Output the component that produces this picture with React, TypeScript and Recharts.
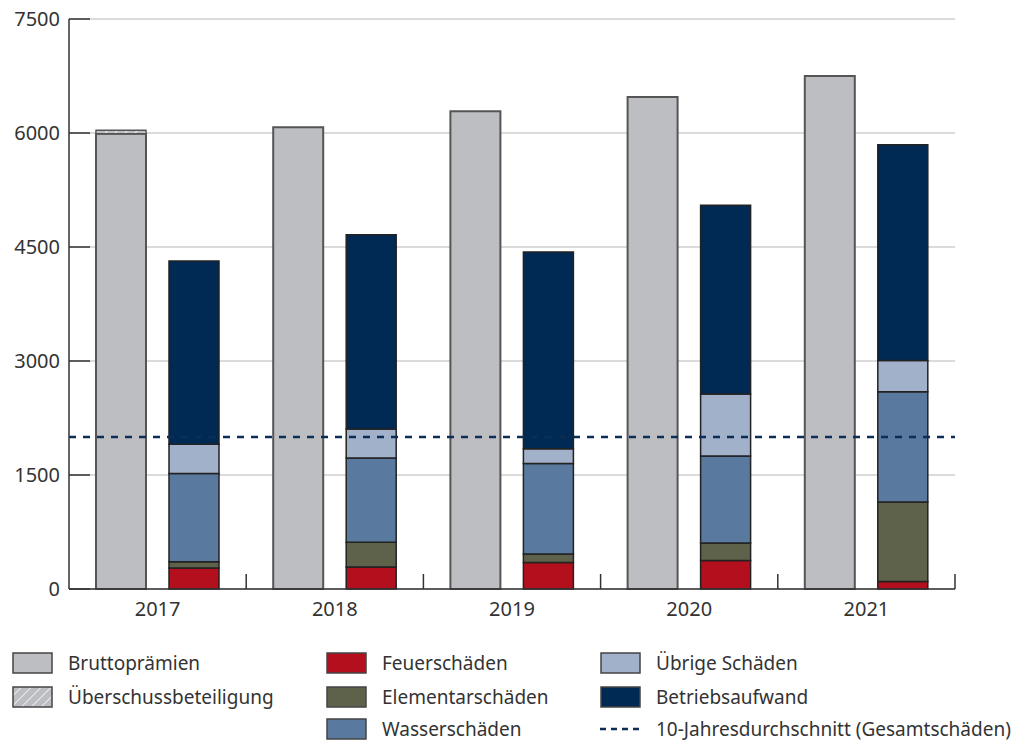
import React from 'react';
import { BarChart, Bar, XAxis, YAxis, CartesianGrid, ReferenceLine } from 'recharts';

const years = ['2017', '2018', '2019', '2020', '2021'];
const bruttopraemien = [5990, 6075, 6285, 6475, 6750];
const ueberschuss = [45, 0, 0, 0, 0];
const feuer = [275, 290, 350, 375, 100];
const elementar = [85, 325, 110, 230, 1045];
const wasser = [1160, 1110, 1190, 1145, 1450];
const uebrige = [385, 380, 195, 815, 410];
const betrieb = [2410, 2555, 2590, 2485, 2840];
const average = 2000;
const yTicks = [0, 1500, 3000, 4500, 6000, 7500];

const data = years.map((year, i) => ({
  year,
  brutto: bruttopraemien[i],
  ueberschuss: ueberschuss[i],
  feuer: feuer[i],
  elementar: elementar[i],
  wasser: wasser[i],
  uebrige: uebrige[i],
  betrieb: betrieb[i],
}));

const FONT = '"Noto Sans", sans-serif';
const TEXT = '#333';
const C = {
  grey: '#bdbec2',
  feuer: '#b30f1d',
  elementar: '#5f624a',
  wasser: '#5a799f',
  uebrige: '#a0b1c9',
  betrieb: '#002a54',
  avg: '#0d2d56',
};

const YTick = ({ x, y, payload }: any) => (
  <g>
    <line x1={x + 8} x2={x + 29} y1={y} y2={y} stroke="#333" strokeWidth={1.5} />
    <text x={x - 1} y={y + 7} textAnchor="end" fontSize={20} fill={TEXT} fontFamily={FONT}>
      {payload.value}
    </text>
  </g>
);

const XTick = ({ x, y, payload }: any) => {
  const half = payload.offset || 88.6;
  return (
    <g>
      <line x1={x + half} x2={x + half} y1={y - 8} y2={y - 23} stroke="#333" strokeWidth={1.5} />
      <text x={x} y={y + 19} textAnchor="middle" fontSize={20} fill={TEXT} fontFamily={FONT}>
        {payload.value}
      </text>
    </g>
  );
};

const Swatch = ({ color, hatch }: { color: string; hatch?: boolean }) => (
  <svg width={41} height={22} style={{ display: 'block' }}>
    <defs>
      <pattern id="lgHatch" width="7" height="7" patternUnits="userSpaceOnUse" patternTransform="rotate(45)">
        <rect width="7" height="7" fill={C.grey} />
        <line x1="0" y1="0" x2="0" y2="7" stroke="#fff" strokeWidth={1.5} />
      </pattern>
    </defs>
    <rect x={1} y={1} width={39} height={20} fill={hatch ? 'url(#lgHatch)' : color} stroke="#444" strokeWidth={1.5} />
  </svg>
);

const legendItems = [
  { label: 'Bruttoprämien', color: C.grey, left: 12, top: 652 },
  { label: 'Überschussbeteiligung', color: C.grey, hatch: true, left: 12, top: 686 },
  { label: 'Feuerschäden', color: C.feuer, left: 326, top: 652 },
  { label: 'Elementarschäden', color: C.elementar, left: 326, top: 686 },
  { label: 'Wasserschäden', color: C.wasser, left: 326, top: 718 },
  { label: 'Übrige Schäden', color: C.uebrige, left: 600, top: 652 },
  { label: 'Betriebsaufwand', color: C.betrieb, left: 600, top: 686 },
];

export default function App() {
  return (
    <div style={{ position: 'absolute', left: 0, top: 0, width: 1032, height: 742, background: '#fff', overflow: 'hidden', fontFamily: FONT }}>
      <BarChart
        width={1032}
        height={645}
        data={data}
        margin={{ top: 19, right: 77, left: 9, bottom: 25 }}
        barSize={50}
        barGap={23}
      >
        <defs>
          <pattern id="hatch" width="7" height="7" patternUnits="userSpaceOnUse" patternTransform="rotate(45)">
            <rect width="7" height="7" fill={C.grey} />
            <line x1="0" y1="0" x2="0" y2="7" stroke="#fff" strokeWidth={1.5} />
          </pattern>
        </defs>
        <CartesianGrid vertical={false} stroke="#cfcfcf" strokeWidth={1.5} />
        <XAxis
          dataKey="year"
          height={31}
          axisLine={{ stroke: '#333', strokeWidth: 1.5 }}
          tickLine={false}
          tick={<XTick />}
          interval={0}
        />
        <YAxis
          width={60}
          domain={[0, 7500]}
          ticks={yTicks}
          axisLine={{ stroke: '#333', strokeWidth: 1.5 }}
          tickLine={false}
          tick={<YTick />}
        />
        <Bar dataKey="brutto" stackId="a" fill={C.grey} stroke="#555" strokeWidth={2} isAnimationActive={false} />
        <Bar dataKey="ueberschuss" stackId="a" fill="url(#hatch)" stroke="#555" strokeWidth={1.5} isAnimationActive={false} />
        <Bar dataKey="feuer" stackId="b" fill={C.feuer} stroke="#222" strokeWidth={1.5} isAnimationActive={false} />
        <Bar dataKey="elementar" stackId="b" fill={C.elementar} stroke="#222" strokeWidth={1.5} isAnimationActive={false} />
        <Bar dataKey="wasser" stackId="b" fill={C.wasser} stroke="#222" strokeWidth={1.5} isAnimationActive={false} />
        <Bar dataKey="uebrige" stackId="b" fill={C.uebrige} stroke="#222" strokeWidth={1.5} isAnimationActive={false} />
        <Bar dataKey="betrieb" stackId="b" fill={C.betrieb} stroke="#222" strokeWidth={1.5} isAnimationActive={false} />
        <ReferenceLine y={average} stroke={C.avg} strokeWidth={2.5} strokeDasharray="7 7" />
      </BarChart>

      {legendItems.map((it) => (
        <div key={it.label} style={{ position: 'absolute', left: it.left, top: it.top, display: 'flex', alignItems: 'center' }}>
          <Swatch color={it.color} hatch={it.hatch} />
          <span style={{ marginLeft: 15, fontSize: 19, lineHeight: '22px', color: TEXT, whiteSpace: 'nowrap' }}>{it.label}</span>
        </div>
      ))}
      <div style={{ position: 'absolute', left: 600, top: 718, display: 'flex', alignItems: 'center' }}>
        <svg width={41} height={22} style={{ display: 'block' }}>
          <line x1={0} x2={41} y1={11} y2={11} stroke={C.avg} strokeWidth={2.5} strokeDasharray="6 5" />
        </svg>
        <span style={{ marginLeft: 15, fontSize: 19, lineHeight: '22px', color: TEXT, whiteSpace: 'nowrap' }}>10-Jahresdurchschnitt (Gesamtschäden)</span>
      </div>
    </div>
  );
}
